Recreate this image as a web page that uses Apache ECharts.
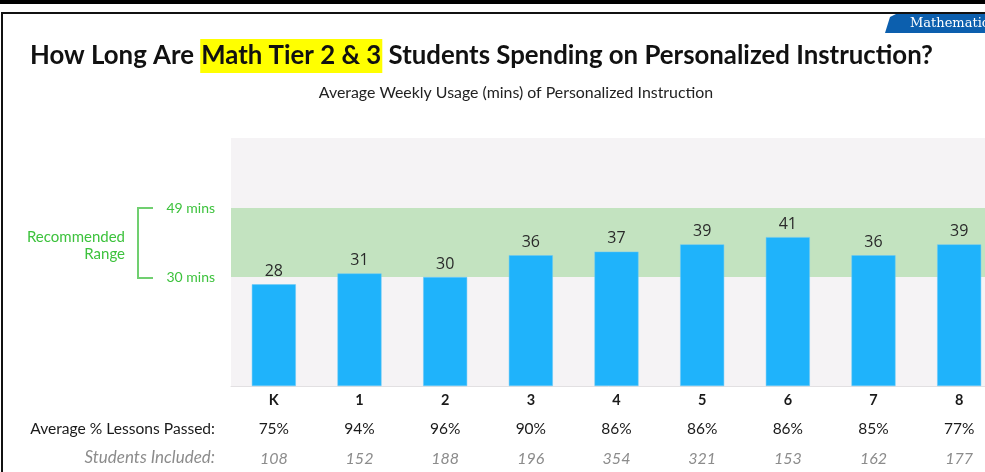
<!DOCTYPE html>
<html>
<head>
<meta charset="utf-8">
<script src="https://cdn.jsdelivr.net/npm/echarts@6/dist/echarts.min.js"></script>
<style>
  html, body { margin: 0; padding: 0; background: #fff; }
  #chart { width: 985px; height: 472px; }
</style>
</head>
<body>
<div id="chart"></div>
<script>
  // grades along the x axis
  var grades = ['K', '1', '2', '3', '4', '5', '6', '7', '8']
  // average weekly usage in minutes
  var usage = [28, 31, 30, 36, 37, 39, 41, 36, 39]
  // rows below the axis
  var lessonsPassed = ['75%', '94%', '96%', '90%', '86%', '86%', '86%', '85%', '77%']
  var studentsIncluded = ['108', '152', '188', '196', '354', '321', '153', '162', '177']
  // recommended range
  var rangeLow = 30
  var rangeHigh = 49

  var green = '#3dc23d'
  var chart = echarts.init(document.getElementById('chart'))
  chart.setOption({
    backgroundColor: '#ffffff',
    animation: false,
    grid: {
      left: 231,
      top: 138,
      width: 771,
      height: 248,
      outerBoundsMode: 'none',
      show: true,
      backgroundColor: '#f5f3f5',
      borderWidth: 0
    },
    xAxis: {
      type: 'category',
      data: grades,
      axisLine: { lineStyle: { color: '#e2e0e2', width: 1 } },
      axisTick: { show: false },
      axisLabel: {
        margin: 0,
        interval: 0,
        formatter: function (v, i) {
          return '{c|' + v + '}\n{p|' + lessonsPassed[i] + '}\n{n|' + studentsIncluded[i] + '}'
        },
        rich: {
          c: { fontFamily: 'Lato', fontWeight: 'bold', fontSize: 14.5, color: '#1a1a1a', lineHeight: 28 },
          p: { fontFamily: 'Lato', fontSize: 15.5, color: '#1a1a1a', lineHeight: 30 },
          n: { fontFamily: 'Lato', fontStyle: 'italic', fontSize: 16, color: '#8c8c8c', lineHeight: 30 }
        }
      }
    },
    yAxis: {
      type: 'value',
      min: 0,
      max: 68.3,
      splitLine: { show: false },
      axisLine: { show: false },
      axisTick: { show: false },
      axisLabel: {
        customValues: [rangeLow, rangeHigh],
        margin: 16,
        color: green,
        fontFamily: 'Lato',
        fontSize: 14,
        formatter: function (v) { return v + ' mins' }
      }
    },
    series: [{
      type: 'bar',
      data: usage,
      barWidth: 44,
      itemStyle: { color: '#1fb3fb', borderColor: '#6cc8f4', borderWidth: 0.5 },
      label: {
        show: true,
        position: 'top',
        distance: 5,
        fontFamily: 'Open Sans',
        fontSize: 16,
        color: '#2a2a2a'
      },
      markArea: {
        silent: true,
        itemStyle: { color: '#c3e3c0' },
        data: [[{ yAxis: rangeLow }, { yAxis: rangeHigh }]]
      },
      z: 3
    }],
    graphic: [
      // slide frame
      { type: 'rect', shape: { x: 0, y: 0, width: 985, height: 4 }, style: { fill: '#000' } },
      { type: 'rect', shape: { x: 2, y: 13, width: 990, height: 470 }, style: { fill: 'none', stroke: '#111', lineWidth: 2 } },
      // subject tab
      { type: 'polygon', shape: { points: [[885, 33], [890, 17], [896, 14], [990, 14], [990, 33]] }, style: { fill: '#0c5fae' } },
      { type: 'text', x: 910, y: 24, style: { text: 'Mathematic', fill: '#fff', font: '13px "DejaVu Serif"', verticalAlign: 'middle' } },
      // title
      {
        type: 'text', x: 30, y: 56,
        style: {
          text: 'How Long Are {hl|Math Tier 2 & 3} Students Spending on Personalized Instruction?',
          fill: '#111',
          font: 'bold 25.8px Lato',
          verticalAlign: 'middle',
          rich: {
            hl: { backgroundColor: '#ffff00', fontFamily: 'Lato', fontWeight: 'bold', fontSize: 25.8, padding: [4, 1, 4, 1], color: '#111' }
          }
        }
      },
      {
        type: 'text', x: 516, y: 93,
        style: { text: 'Average Weekly Usage (mins) of Personalized Instruction', fill: '#222', font: '15.9px Lato', align: 'center', verticalAlign: 'middle' }
      },
      // recommended range bracket
      { type: 'polyline', shape: { points: [[153, 208], [138, 208], [138, 278], [153, 278]] }, style: { stroke: '#70cf70', lineWidth: 2, fill: 'none' } },
      { type: 'text', x: 125, y: 237, style: { text: 'Recommended', fill: green, font: '15px Lato', align: 'right', verticalAlign: 'middle' } },
      { type: 'text', x: 125, y: 254, style: { text: 'Range', fill: green, font: '15px Lato', align: 'right', verticalAlign: 'middle' } },
      // row headers
      { type: 'text', x: 215, y: 429, style: { text: 'Average % Lessons Passed:', fill: '#1a1a1a', font: '15.6px Lato', align: 'right', verticalAlign: 'middle' } },
      { type: 'text', x: 215, y: 458, style: { text: 'Students Included:', fill: '#8c8c8c', font: 'italic 17px Lato', align: 'right', verticalAlign: 'middle' } }
    ]
  })
</script>
</body>
</html>
